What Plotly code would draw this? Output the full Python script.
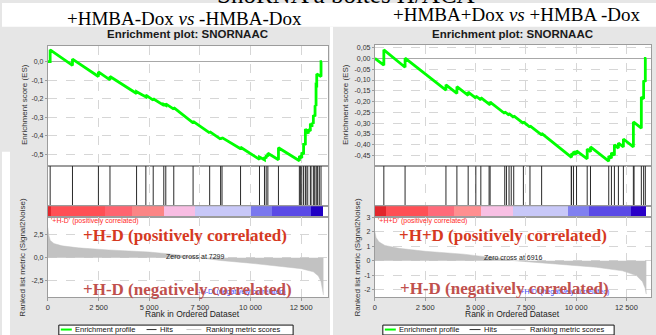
import plotly.graph_objects as go

# ---------------- data ----------------
x_tick_vals = [0, 2500, 5000, 7500, 10000, 12500]
x_tick_text = ["0", "2 500", "5 000", "7 500", "10 000", "12 500"]

# Left panel : +HMBA-Dox vs -HMBA-Dox
L_es_rank = [0, 113, 113, 1215, 1215, 2494, 2494, 3065, 3065, 4379, 4379, 4836, 4836, 5200, 5200,
             5722, 5722, 5820, 5820, 6214, 6214, 7168, 7168, 7985, 7985, 8526, 8526, 8595, 8595,
             9510, 9510, 10445, 10445, 10691, 10691, 10775, 10775, 10858, 10858, 11380, 11380,
             12413, 12413, 12531, 12531, 12620, 12620, 12708, 12708, 12856, 12856, 12954, 12954,
             13038, 13038, 13102, 13102, 13186, 13186, 13235, 13235, 13269, 13269, 13397, 13481,
             13481, 13530]
L_es = [0.0, 0.0, 0.064, -0.020, 0.014, -0.080, -0.055, -0.098, -0.080, -0.172, -0.162, -0.190,
        -0.180, -0.208, -0.200, -0.236, -0.230, -0.236, -0.228, -0.256, -0.248, -0.330, -0.322,
        -0.385, -0.378, -0.418, -0.412, -0.417, -0.410, -0.470, -0.462, -0.528, -0.515, -0.530,
        -0.515, -0.522, -0.505, -0.512, -0.495, -0.530, -0.465, -0.535, -0.510, -0.520, -0.490,
        -0.500, -0.440, -0.450, -0.364, -0.388, -0.365, -0.375, -0.334, -0.352, -0.330, -0.335,
        -0.289, -0.295, -0.236, -0.240, -0.125, -0.127, -0.066, -0.075, -0.080, 0.0, 0.0]
L_hits = [114, 1215, 2495, 3065, 4378, 4836, 5199, 5721, 5820, 6214, 7167, 7985, 8525, 8595, 9509,
          10444, 10690, 10774, 10857, 11379, 12412, 12462, 12530, 12620, 12708, 12742, 12825,
          12954, 12987, 13101, 13150, 13235, 13283, 13317, 13397, 13481]
L_metric_rank = [0, 40, 120, 300, 700, 1500, 3000, 5000, 6000, 6800, 7299, 8500, 10000, 11500,
                 12500, 13100, 13350, 13480, 13560, 13600]
L_metric = [3.3, 2.5, 1.9, 1.55, 1.3, 1.08, 0.85, 0.62, 0.42, 0.2, 0.0, -0.3, -0.6, -0.92, -1.2,
            -1.55, -2.0, -2.6, -3.4, -4.1]
L_band_start = [0, 148, 2804, 4133, 5707, 7232, 10037, 11070, 12989]
L_band_end = [148, 2804, 4133, 5707, 7232, 10037, 11070, 12989, 13579]
L_band_color = ["#e2262c", "#ff4f55", "#ff6470", "#fb8585", "#f8bde3", "#c8c8f8", "#7a78ee",
                "#5a4ae6", "#2000c4"]
L_zero_cross = 7299

# Right panel : +HMBA+Dox vs +HMBA -Dox
R_es_rank = [0, 446, 446, 1501, 1501, 3532, 3532, 4077, 4077, 4637, 4637, 5018, 5018, 5266, 5266,
             5727, 5727, 6455, 6455, 6668, 6668, 6901, 6901, 7381, 7381, 7708, 7708, 8288, 8288,
             9774, 9774, 9873, 9873, 10022, 10022, 10552, 10552, 10716, 10716, 11622, 11622,
             11756, 11756, 11904, 11904, 12103, 12103, 12350, 12350, 12846, 12846, 13242, 13242,
             13356, 13356, 13440, 13440, 13490]
R_es = [0.0, -0.031, 0.040, -0.041, 0.001, -0.147, -0.122, -0.162, -0.131, -0.171, -0.156, -0.184,
        -0.174, -0.192, -0.182, -0.215, -0.202, -0.255, -0.247, -0.263, -0.256, -0.273, -0.266,
        -0.301, -0.294, -0.318, -0.312, -0.354, -0.347, -0.458, -0.440, -0.447, -0.432, -0.443,
        -0.428, -0.465, -0.420, -0.432, -0.410, -0.476, -0.452, -0.462, -0.437, -0.448, -0.400,
        -0.415, -0.392, -0.410, -0.373, -0.410, -0.294, -0.323, -0.179, -0.187, -0.102, -0.108,
        0.0, 0.0]
R_hits = [446, 1501, 3532, 4077, 4637, 5018, 5266, 5677, 5727, 6455, 6539, 6668, 6777, 6901, 7381,
          7708, 8288, 9759, 9774, 9873, 10022, 10552, 10716, 11622, 11756, 11904, 12103, 12350,
          12846, 12880, 13242, 13356, 13440]
R_metric_rank = [0, 60, 200, 500, 1200, 2500, 4400, 5500, 6300, 6916, 8000, 9400, 11000, 12300,
                 13000, 13300, 13430, 13480, 13490]
R_metric = [2.0, 1.6, 1.3, 1.05, 0.85, 0.65, 0.45, 0.3, 0.14, 0.0, -0.12, -0.25, -0.45, -0.7,
            -1.03, -1.45, -1.9, -2.3, -2.3]
R_band_start = [0, 560, 2640, 3929, 5266, 6851, 9576, 10616, 12697]
R_band_end = [560, 2640, 3929, 5266, 6851, 9576, 10616, 12697, 13490]
R_band_color = ["#e2262c", "#ff4f55", "#ff6a7a", "#ff8f90", "#f8c0e4", "#c8c8f8", "#8080f0",
                "#5a4ae6", "#2a00c8"]
R_zero_cross = 6916

L_es_ticks = [0.0, -0.1, -0.2, -0.3, -0.4, -0.5]
L_es_ticktext = ["0,0", "-0,1", "-0,2", "-0,3", "-0,4", "-0,5"]
R_es_ticks = [0.05, 0.0, -0.05, -0.10, -0.15, -0.20, -0.25, -0.30, -0.35, -0.40, -0.45]
R_es_ticktext = ["0,05", "0,00", "-0,05", "-0,10", "-0,15", "-0,20", "-0,25", "-0,30", "-0,35",
                 "-0,40", "-0,45"]
L_rank_ticks = [2.5, 0.0, -2.5]
L_rank_ticktext = ["2,5", "0,0", "-2,5"]
R_rank_ticks = [3, 2, 1, 0, -1, -2]
R_rank_ticktext = ["3", "2", "1", "0", "-1", "-2"]

# ---------------- figure ----------------
W, H = 656, 335
GRID = "#d6d6d6"
FRAME = "#9c9c9c"
PANEL = "#e6e6e6"
SANS = "Liberation Sans, Arial, sans-serif"
SERIF = "Liberation Serif, Times New Roman, serif"

fig = go.Figure()


def xd(a, b):
    return [a / W, b / W]


def yd(top, bottom):
    return [1 - bottom / H, 1 - top / H]


def axn(kind, i):
    return kind + ("" if i == 1 else str(i))


shapes = []
annotations = []


def ann(x, y, text, size, color="#222", family=SANS, xanchor="center", yanchor="middle",
        angle=0):
    annotations.append(dict(x=x / W, y=1 - y / H, xref="paper", yref="paper", text=text,
                            showarrow=False, xanchor=xanchor, yanchor=yanchor, textangle=angle,
                            font=dict(size=size, color=color, family=family), borderpad=0))


def rect(x0, y0, x1, y1, fill, line=None, layer="below"):
    x0, x1 = max(x0, 0), min(x1, W)
    y0, y1 = max(y0, 0), min(y1, H)
    shapes.append(dict(type="rect", xref="paper", yref="paper", x0=x0 / W, x1=x1 / W,
                       y0=1 - y1 / H, y1=1 - y0 / H, fillcolor=fill, layer=layer,
                       line=dict(width=1 if line else 0, color=line or fill)))


def hline(x0, x1, y, color, width):
    shapes.append(dict(type="line", xref="paper", yref="paper", x0=x0 / W, x1=x1 / W,
                       y0=1 - y / H, y1=1 - y / H, line=dict(color=color, width=width),
                       layer="above"))


def add_panel(k, xl, xr, es_top, xmax, es_rng, es_tv, es_tt, rk_rng, rk_tv, rk_tt,
              es_rank, es_val, hits, m_rank, m_val, b_s, b_e, b_c):
    base = 4 * k
    rows = [(es_top, 164), (164, 205), (205, 216), (216, 297)]
    for j, (t, b) in enumerate(rows):
        i = base + j + 1
        xa = dict(domain=xd(xl, xr), range=[0, xmax], anchor=axn("y", i),
                  tickvals=x_tick_vals, ticktext=x_tick_text, showticklabels=(j == 3),
                  showgrid=(j != 2), gridcolor=GRID, griddash="dash", gridwidth=1,
                  showline=True, linecolor=FRAME, linewidth=1, mirror=True, zeroline=False,
                  ticks="outside" if j == 3 else "", ticklen=3, tickcolor=FRAME,
                  tickfont=dict(family=SANS, size=7.5, color="#333"), fixedrange=True)
        ya = dict(domain=yd(t, b), anchor=axn("x", i), showline=True, linecolor=FRAME,
                  linewidth=1, mirror=True, fixedrange=True, zeroline=False,
                  tickfont=dict(family=SANS, size=7, color="#333"))
        if j == 0:
            ya.update(range=es_rng, tickvals=es_tv, ticktext=es_tt, showgrid=True,
                      gridcolor=GRID, griddash="dash", zeroline=True, zerolinecolor="#a8a8a8",
                      zerolinewidth=1, ticks="outside", ticklen=2, tickcolor=FRAME)
        elif j == 3:
            ya.update(range=rk_rng, tickvals=rk_tv, ticktext=rk_tt, showgrid=True,
                      gridcolor=GRID, griddash="dash", ticks="outside", ticklen=2,
                      tickcolor=FRAME)
        else:
            ya.update(range=[0, 1], showticklabels=False, showgrid=False)
        fig.update_layout(**{axn("xaxis", i): xa, axn("yaxis", i): ya})

    # enrichment profile
    fig.add_trace(go.Scatter(x=es_rank, y=es_val, mode="lines",
                             line=dict(color="#00ff00", width=2.8),
                             xaxis=axn("x", base + 1), yaxis=axn("y", base + 1),
                             showlegend=False, hoverinfo="skip"))
    # hits
    hx, hy = [], []
    for h in hits:
        hx += [h, h, None]
        hy += [0, 1, None]
    fig.add_trace(go.Scatter(x=hx, y=hy, mode="lines", line=dict(color="#2a2a2a", width=1),
                             xaxis=axn("x", base + 2), yaxis=axn("y", base + 2),
                             showlegend=False, hoverinfo="skip"))
    # colour band
    fig.add_trace(go.Bar(x=[(s + e) / 2 for s, e in zip(b_s, b_e)], y=[1] * len(b_s),
                         width=[e - s for s, e in zip(b_s, b_e)], base=0,
                         marker=dict(color=b_c, line=dict(width=0)),
                         xaxis=axn("x", base + 3), yaxis=axn("y", base + 3),
                         showlegend=False, hoverinfo="skip"))
    # ranked list metric
    fig.add_trace(go.Scatter(x=m_rank, y=m_val, mode="lines", fill="tozeroy",
                             fillcolor="#c2c2c2", line=dict(color="#c2c2c2", width=0.5),
                             xaxis=axn("x", base + 4), yaxis=axn("y", base + 4),
                             showlegend=False, hoverinfo="skip"))


# white areas outside the grey GSEA panels (paper background is the panel grey)
rect(0, 0, W, 24, "#ffffff")
rect(0, 150, 8, H, "#ffffff")
rect(329, 24, 332, H, "#ffffff")

add_panel(0, 46, 327, 43, 13825, [-0.561, 0.087], L_es_ticks, L_es_ticktext,
          [-4.35, 4.46], L_rank_ticks, L_rank_ticktext,
          L_es_rank, L_es, L_hits, L_metric_rank, L_metric,
          L_band_start, L_band_end, L_band_color)
add_panel(1, 374, 651, 42, 13723, [-0.496, 0.064], R_es_ticks, R_es_ticktext,
          [-2.53, 3.01], R_rank_ticks, R_rank_ticktext,
          R_es_rank, R_es, R_hits, R_metric_rank, R_metric,
          R_band_start, R_band_end, R_band_color)

# ---- texts ----
ann(345, -9, "SnoRNA à boîtes H/ACA", 25, "#000", SERIF)
ann(183, 15.5, "+HMBA-Dox <i>vs</i> -HMBA-Dox", 19, "#000", SERIF)
ann(516, 12, "+HMBA+Dox <i>vs</i> +HMBA -Dox", 19, "#000", SERIF)

for cx in (186, 512):
    ann(cx, 31.5, "<b>Enrichment plot: SNORNAAC</b>", 11.5, "#1a1a1a")

ann(22, 102, "Enrichment score (ES)", 8, "#333", angle=-90)
ann(344, 102, "Enrichment score (ES)", 8, "#333", angle=-90)
ann(21, 256, "Ranked list metric (Signal2Noise)", 8, "#333", angle=-90)
ann(357, 256, "Ranked list metric (Signal2Noise)", 8, "#333", angle=-90)

ann(48, 220, "'+H-D' (positively correlated)", 7, "#ff2a2a", xanchor="left")
ann(376, 220, "'+H+D' (positively correlated)", 7, "#ff2a2a", xanchor="left")
ann(194, 256, "Zero cross at %d" % L_zero_cross, 7, "#222")
ann(513, 256.5, "Zero cross at %d" % R_zero_cross, 7, "#222")
ann(195, 292, "'-H-D' (negatively correlated)", 7, "#3b4bff", xanchor="left")
ann(518, 292, "'+H-D' (negatively correlated)", 7, "#3b4bff", xanchor="left")

ann(184, 235, "<b>+H-D (positively correlated)</b>", 17, "#d6391f", SERIF)
ann(186, 289, "<b>+H-D (negatively correlated)</b>", 17, "#c0504d", SERIF)
ann(503, 235, "<b>+H+D (positively correlated)</b>", 17, "#d6391f", SERIF)
ann(504, 288, "<b>+H-D (negatively correlated)</b>", 17, "#c0504d", SERIF)

ann(191, 314, "Rank in Ordered Dataset", 8.5, "#222")
ann(512, 314, "Rank in Ordered Dataset", 8.5, "#222")

# ---- legends ----
for (bx0, bx1, g0, g1, t1, h0, h1, t2, r0, r1, t3) in [
        (57, 292, 59, 70, 72, 145, 155, 157, 185, 200, 204),
        (382, 614, 384, 395, 397, 469, 480, 482, 510, 525, 529)]:
    rect(bx0, 325, bx1, 335, "#ffffff", line="#111111", layer="above")
    hline(g0, g1, 329.5, "#00ff00", 2)
    hline(h0, h1, 329.5, "#333333", 1)
    hline(r0, r1, 329.5, "#c8c8c8", 1)
    ann(t1, 329.5, "Enrichment profile", 7.5, "#111", xanchor="left")
    ann(t2, 329.5, "Hits", 7.5, "#111", xanchor="left")
    ann(t3, 329.5, "Ranking metric scores", 7.5, "#111", xanchor="left")

fig.update_layout(width=W, height=H, autosize=False,
                  margin=dict(l=0, r=0, t=0, b=0, pad=0),
                  paper_bgcolor=PANEL, plot_bgcolor="#ffffff",
                  shapes=shapes, annotations=annotations, bargap=0)

fig.write_html("out.html", config={"displayModeBar": False},
               post_script="document.body.style.margin='0';document.body.style.overflow='hidden';")
